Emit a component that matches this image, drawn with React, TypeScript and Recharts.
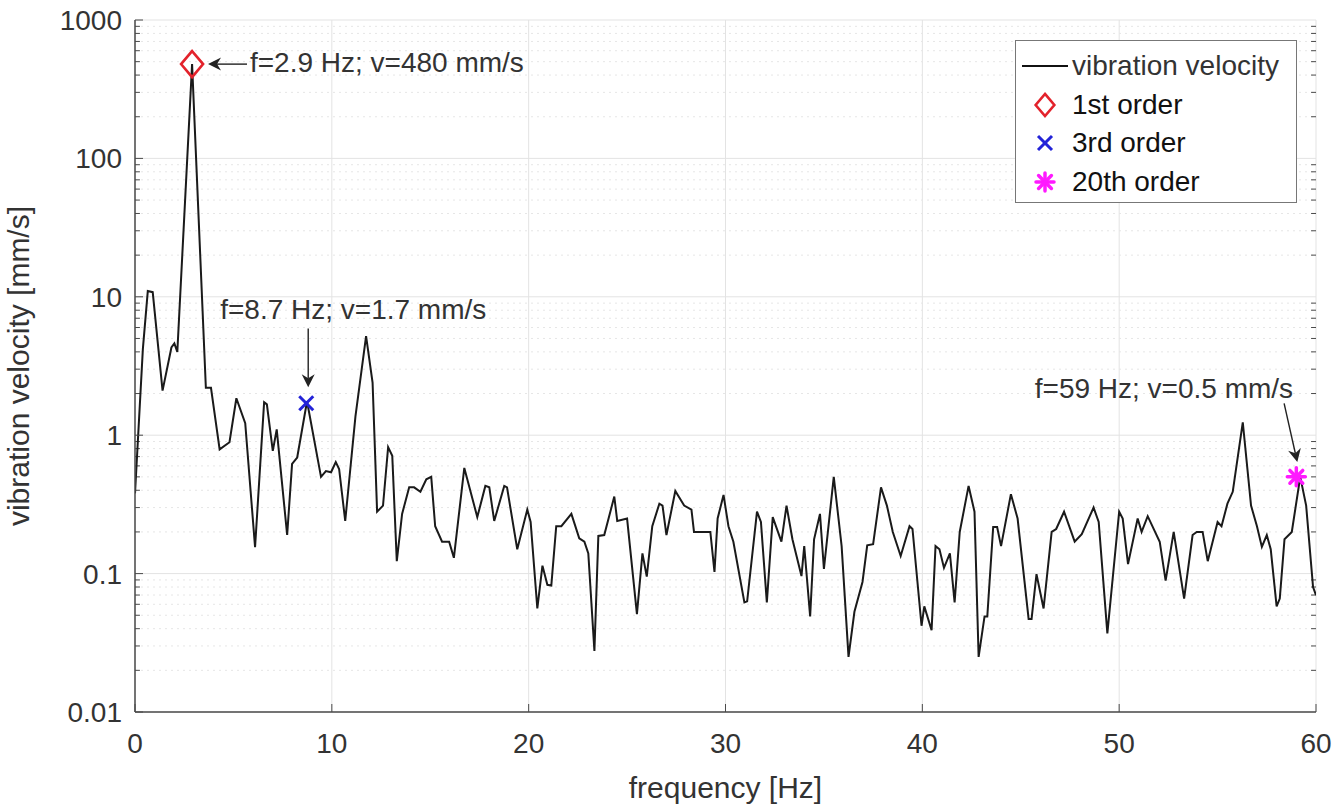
import React from 'react';
import {
  ComposedChart,
  Line,
  Scatter,
  XAxis,
  YAxis,
  CartesianGrid,
  ReferenceLine,
  Legend,
  Label,
} from 'recharts';

const FONT = '"Liberation Sans", Arial, Helvetica, sans-serif';
const AXIS = '#4a4a4a';
const TEXT = '#333333';

// frequency [Hz] of each sample of the spectrum
const freq = [
  0, 0.4, 0.65, 0.9, 1.4, 1.85, 2.0, 2.15, 2.9, 3.6,
  3.86, 4.3, 4.8, 5.15, 5.6, 6.1, 6.56, 6.7, 7.0, 7.2,
  7.73, 7.98, 8.24, 8.74, 9.45, 9.7, 9.96, 10.2, 10.37, 10.68,
  11.2, 11.74, 12.07, 12.3, 12.6, 12.86, 13.07, 13.3, 13.57, 13.93,
  14.18, 14.5, 14.8, 15.05, 15.25, 15.6, 15.96, 16.2, 16.73, 17.39,
  17.8, 18.0, 18.25, 18.76, 18.9, 19.42, 19.93, 20.1, 20.44, 20.7,
  20.95, 21.15, 21.4, 21.66, 22.17, 22.57, 22.83, 23.03, 23.34, 23.54,
  23.84, 24.35, 24.5, 25.0, 25.5, 25.78, 26.0, 26.28, 26.64, 26.8,
  27.0, 27.45, 27.9, 28.27, 28.4, 28.67, 28.93, 29.23, 29.44, 29.6,
  29.9, 30.15, 30.4, 30.96, 31.1, 31.6, 31.8, 32.1, 32.4, 32.84,
  33.1, 33.4, 33.86, 34.0, 34.3, 34.5, 34.8, 35.0, 35.5, 35.9,
  36.25, 36.55, 36.96, 37.2, 37.5, 37.9, 38.2, 38.5, 38.9, 39.35,
  39.5, 39.96, 40.1, 40.47, 40.67, 40.87, 41.1, 41.4, 41.64, 41.9,
  42.35, 42.65, 42.86, 43.16, 43.3, 43.6, 43.8, 44.0, 44.5, 44.84,
  45.4, 45.55, 45.8, 46.16, 46.57, 46.8, 47.2, 47.74, 48.1, 48.7,
  48.96, 49.4, 50.0, 50.18, 50.45, 50.94, 51.14, 51.45, 52.06, 52.36,
  52.77, 53.3, 53.73, 53.94, 54.24, 54.5, 55.0, 55.2, 55.5, 55.77,
  56.28, 56.7, 57.0, 57.25, 57.5, 57.7, 58.0, 58.16, 58.4, 58.77,
  59.2, 59.5, 59.85, 60,
];

// vibration velocity [mm/s]
const velocity = [
  0.38, 4.2, 11, 10.8, 2.1, 4.3, 4.6, 4.0, 480, 2.2,
  2.2, 0.79, 0.89, 1.85, 1.22, 0.155, 1.73, 1.67, 0.77, 1.1,
  0.19, 0.62, 0.69, 1.76, 0.5, 0.55, 0.54, 0.64, 0.57, 0.24,
  1.37, 5.2, 2.4, 0.28, 0.31, 0.82, 0.71, 0.123, 0.27, 0.42,
  0.42, 0.39, 0.48, 0.5, 0.22, 0.17, 0.17, 0.13, 0.58, 0.256,
  0.43, 0.42, 0.24, 0.43, 0.42, 0.15, 0.29, 0.236, 0.056, 0.114,
  0.083, 0.082, 0.22, 0.22, 0.27, 0.18, 0.17, 0.14, 0.0276, 0.187,
  0.19, 0.36, 0.24, 0.25, 0.051, 0.14, 0.095, 0.22, 0.32, 0.31,
  0.19, 0.395, 0.31, 0.29, 0.2, 0.2, 0.2, 0.2, 0.103, 0.25,
  0.37, 0.22, 0.17, 0.062, 0.063, 0.28, 0.236, 0.062, 0.256, 0.17,
  0.31, 0.177, 0.096, 0.158, 0.049, 0.177, 0.27, 0.108, 0.5, 0.158,
  0.025, 0.053, 0.087, 0.16, 0.163, 0.42, 0.31, 0.2, 0.134, 0.22,
  0.21, 0.042, 0.058, 0.039, 0.158, 0.15, 0.11, 0.14, 0.062, 0.2,
  0.43, 0.28, 0.025, 0.049, 0.049, 0.217, 0.217, 0.158, 0.375, 0.25,
  0.047, 0.047, 0.099, 0.056, 0.2, 0.21, 0.28, 0.17, 0.193, 0.3,
  0.236, 0.037, 0.28, 0.25, 0.117, 0.25, 0.2, 0.26, 0.17, 0.089,
  0.2, 0.066, 0.19, 0.2, 0.2, 0.123, 0.236, 0.22, 0.32, 0.39,
  1.24, 0.31, 0.22, 0.156, 0.19, 0.15, 0.058, 0.066, 0.177, 0.2,
  0.5, 0.31, 0.08, 0.07,
];

const firstOrder = [{ f: 2.9, v: 480 }];
const thirdOrder = [{ f: 8.7, v: 1.7 }];
const twentiethOrder = [{ f: 59, v: 0.5 }];

const xTicks = [0, 10, 20, 30, 40, 50, 60];
const yTicks = [0.01, 0.1, 1, 10, 100, 1000];
const minorSteps = [2, 3, 4, 5, 6, 7, 8, 9];
const minorY = yTicks
  .slice(0, -1)
  .flatMap((d) => minorSteps.map((m) => Number((m * d).toPrecision(2))));

const spectrum = freq.map((f, i) => ({ f, v: velocity[i] }));

// annotation arrows: tail -> tip, in data units
const annotations = [
  { text: 'f=2.9 Hz; v=480 mm/s', tail: { x: 5.69, y: 480 }, tip: { x: 3.71, y: 480 }, dx: 3, dy: -2, anchor: 'start' },
  { text: 'f=8.7 Hz; v=1.7 mm/s', tail: { x: 8.8, y: 5.9 }, tip: { x: 8.8, y: 2.22 }, dx: -88, dy: -19, anchor: 'start' },
  { text: 'f=59 Hz; v=0.5 mm/s', tail: { x: 58.38, y: 1.7 }, tip: { x: 59.05, y: 0.64 }, dx: 9, dy: -15, anchor: 'end' },
];

const Diamond = ({ cx, cy, s = 1 }: any) => (
  <path
    d={`M${cx},${cy - 13 * s} L${cx + 11 * s},${cy} L${cx},${cy + 13 * s} L${cx - 11 * s},${cy} Z`}
    fill="none"
    stroke="#e3222b"
    strokeWidth={2.6}
  />
);

const Cross = ({ cx, cy }: any) => (
  <g stroke="#2323d8" strokeWidth={3}>
    <line x1={cx - 7} y1={cy - 7} x2={cx + 7} y2={cy + 7} />
    <line x1={cx - 7} y1={cy + 7} x2={cx + 7} y2={cy - 7} />
  </g>
);

const Asterisk = ({ cx, cy }: any) => (
  <g stroke="#ff1aff" strokeWidth={3.5} strokeLinecap="round">
    <line x1={cx - 9} y1={cy} x2={cx + 9} y2={cy} />
    <line x1={cx} y1={cy - 9} x2={cx} y2={cy + 9} />
    <line x1={cx - 6.4} y1={cy - 6.4} x2={cx + 6.4} y2={cy + 6.4} />
    <line x1={cx - 6.4} y1={cy + 6.4} x2={cx + 6.4} y2={cy - 6.4} />
  </g>
);

const arrowShape = (a: any) => (p: any) => {
  const { x1, y1, x2, y2 } = p;
  const ang = Math.atan2(y2 - y1, x2 - x1);
  const c = Math.cos(ang);
  const s = Math.sin(ang);
  const L = 13;
  const W = 6.5;
  const bx = x2 - L * c;
  const by = y2 - L * s;
  const nx = x2 - 9 * c;
  const ny = y2 - 9 * s;
  const pts = [
    [x2, y2],
    [bx - W * s, by + W * c],
    [nx, ny],
    [bx + W * s, by - W * c],
  ]
    .map((q) => q.join(','))
    .join(' ');
  return (
    <g>
      <line x1={x1} y1={y1} x2={nx} y2={ny} stroke="#222" strokeWidth={1.4} />
      <polygon points={pts} fill="#222" />
      <text
        x={x1 + a.dx}
        y={y1 + a.dy}
        textAnchor={a.anchor}
        dominantBaseline="central"
        fill={TEXT}
        fontSize={28}
        fontFamily={FONT}
      >
        {a.text}
      </text>
    </g>
  );
};

const legendRows = [
  { label: 'vibration velocity', kind: 'line' },
  { label: '1st order', kind: 'diamond' },
  { label: '3rd order', kind: 'cross' },
  { label: '20th order', kind: 'star' },
];

const LegendBox = () => (
  <div
    style={{
      width: 282,
      height: 163,
      border: '1.5px solid #777',
      background: '#fff',
      boxSizing: 'border-box',
      position: 'relative',
      fontFamily: FONT,
      fontSize: 28,
      color: '#111',
    }}
  >
    {legendRows.map((r, i) => (
      <div
        key={r.label}
        style={{
          position: 'absolute',
          left: 0,
          top: 6 + i * 38.5,
          height: 38,
          display: 'flex',
          alignItems: 'center',
          whiteSpace: 'nowrap',
        }}
      >
        <svg width={56} height={38} style={{ flex: 'none' }}>
          {r.kind === 'line' && <line x1={6} y1={19} x2={52} y2={19} stroke="#111" strokeWidth={2} />}
          {r.kind === 'diamond' && <Diamond cx={29} cy={19} s={0.85} />}
          {r.kind === 'cross' && <Cross cx={29} cy={19} />}
          {r.kind === 'star' && <Asterisk cx={29} cy={19} />}
        </svg>
        <span style={{ color: i === 0 ? '#333' : '#111' }}>{r.label}</span>
      </div>
    ))}
  </div>
);

export default function App() {
  const tickStyle = { fill: TEXT, fontSize: 28, fontFamily: FONT };
  return (
    <div style={{ position: 'absolute', left: 0, top: 0, width: 1336, height: 807, background: '#fff' }}>
      <ComposedChart
        width={1336}
        height={807}
        data={spectrum}
        margin={{ top: 20, right: 20, left: 0, bottom: 0 }}
      >
        <CartesianGrid stroke="#e3e3e3" strokeWidth={1} />
        {minorY.map((m) => (
          <ReferenceLine key={`g${m}`} y={m} stroke="#e6e6e6" strokeDasharray="2 4" />
        ))}
        <XAxis
          dataKey="f"
          type="number"
          domain={[0, 60]}
          ticks={xTicks}
          interval={0}
          allowDataOverflow
          height={95}
          tickSize={-8}
          tickMargin={29}
          tick={tickStyle}
          axisLine={{ stroke: AXIS, strokeWidth: 1.5 }}
          tickLine={{ stroke: AXIS }}
        >
          <Label value="frequency [Hz]" position="insideBottom" offset={9} fill={TEXT} fontSize={30} fontFamily={FONT} />
        </XAxis>
        <XAxis
          xAxisId="top"
          orientation="top"
          type="number"
          domain={[0, 60]}
          ticks={xTicks}
          interval={0}
          allowDataOverflow
          height={0}
          tickSize={-8}
          tickFormatter={() => ''}
          axisLine={{ stroke: AXIS, strokeWidth: 1.5 }}
          tickLine={{ stroke: AXIS }}
        />
        <YAxis
          type="number"
          scale="log"
          domain={[0.01, 1000]}
          ticks={yTicks}
          interval={0}
          allowDataOverflow
          width={135}
          tickSize={-8}
          tickMargin={21}
          tick={tickStyle}
          tickFormatter={(v: number) => String(v)}
          axisLine={{ stroke: AXIS, strokeWidth: 1.5 }}
          tickLine={{ stroke: AXIS }}
        >
          <Label
            value="vibration velocity [mm/s]"
            position="insideLeft"
            angle={-90}
            offset={18}
            fill={TEXT}
            fontSize={30}
            fontFamily={FONT}
            style={{ textAnchor: 'middle' }}
          />
        </YAxis>
        <YAxis
          yAxisId="right"
          orientation="right"
          type="number"
          scale="log"
          domain={[0.01, 1000]}
          ticks={yTicks}
          interval={0}
          allowDataOverflow
          width={0}
          tickSize={-8}
          tickFormatter={() => ''}
          axisLine={{ stroke: AXIS, strokeWidth: 1.5 }}
          tickLine={{ stroke: AXIS }}
        />
        {minorY.map((m) => (
          <ReferenceLine key={`l${m}`} segment={[{ x: 0, y: m }, { x: 0.25, y: m }]} stroke={AXIS} />
        ))}
        {minorY.map((m) => (
          <ReferenceLine key={`r${m}`} segment={[{ x: 59.75, y: m }, { x: 60, y: m }]} stroke={AXIS} />
        ))}
        <Line
          type="linear"
          dataKey="v"
          name="vibration velocity"
          stroke="#1a1a1a"
          strokeWidth={2}
          dot={false}
          activeDot={false}
          isAnimationActive={false}
        />
        <Scatter name="1st order" data={firstOrder} dataKey="v" shape={(p: any) => <Diamond cx={p.cx} cy={p.cy} />} isAnimationActive={false} />
        <Scatter name="3rd order" data={thirdOrder} dataKey="v" shape={(p: any) => <Cross cx={p.cx} cy={p.cy} />} isAnimationActive={false} />
        <Scatter name="20th order" data={twentiethOrder} dataKey="v" shape={(p: any) => <Asterisk cx={p.cx} cy={p.cy} />} isAnimationActive={false} />
        {annotations.map((a) => (
          <ReferenceLine key={a.text} segment={[a.tail, a.tip]} shape={arrowShape(a)} />
        ))}
        <Legend
          layout="horizontal"
          verticalAlign="middle"
          align="center"
          content={() => <LegendBox />}
          wrapperStyle={{ left: 1015, top: 40, width: 282, height: 163 }}
        />
      </ComposedChart>
    </div>
  );
}
